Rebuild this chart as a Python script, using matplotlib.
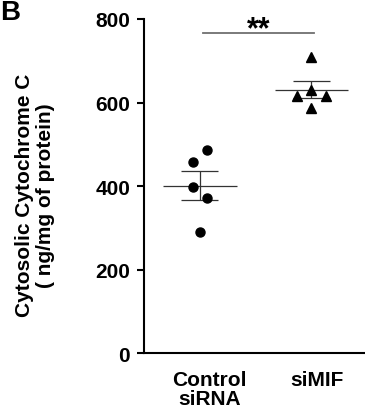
import numpy as np
import matplotlib
matplotlib.use("Agg")
import matplotlib.pyplot as plt

plt.rcParams['font.family'] = ['Liberation Sans', 'DejaVu Sans']
plt.rcParams['font.weight'] = 'bold'

groups = ["Control\nsiRNA", "siMIF"]
control = [486, 458, 397, 371, 289]
simif = [708, 631, 615, 615, 586]
control_dx = [0.065, -0.06, -0.06, 0.065, 0.0]
simif_dx = [0.0, 0.0, -0.125, 0.127, 0.0]
yticks = [0, 200, 400, 600, 800]
sig_y = 767

fig = plt.figure(figsize=(3.65, 4.14), dpi=100)
ax = fig.add_axes([0.3945, 0.1449, 0.6055, 0.8068])

pos = [1, 2]
for p, vals, dx, mk in zip(pos, [control, simif], [control_dx, simif_dx], ["o", "^"]):
    vals = np.array(vals)
    ax.plot(p + np.array(dx), vals, linestyle="none", marker=mk, color="black",
            markersize=6.5, clip_on=False, zorder=3)
    m = vals.mean()
    sem = vals.std(ddof=1) / np.sqrt(len(vals))
    ax.hlines(m, p - 0.33, p + 0.33, color="#333333", lw=0.9)
    ax.hlines([m - sem, m + sem], p - 0.165, p + 0.165, color="#333333", lw=0.9)
    ax.vlines(p, m - sem, m + sem, color="#333333", lw=0.9)

ax.plot([1.03, 2.02], [sig_y, sig_y], color="#707070", lw=1.3, clip_on=False)
ax.text(1.524, 756, "**", ha="center", va="baseline", fontsize=22, fontweight="bold")

ax.set_xlim(0.5, 2.48)
ax.set_ylim(0, 800)
ax.set_yticks(yticks)
ax.set_xticks([1.09, 2.05])
ax.set_xticklabels(groups, fontsize=15, linespacing=1.05)
ax.tick_params(axis="x", length=0, pad=12)
ax.tick_params(axis="y", length=5, width=1.5, labelsize=15, pad=5)
for s in ["top", "right"]:
    ax.spines[s].set_visible(False)
for s in ["left", "bottom"]:
    ax.spines[s].set_linewidth(1.5)

ax.set_ylabel("Cytosolic Cytochrome C\n( ng/mg of protein)", fontsize=15,
              fontweight="bold", linespacing=1.15)
ax.yaxis.set_label_coords(-0.403, 0.4746)

fig.text(0.0, 1.0, "B", fontsize=20, fontweight="bold", va="top", ha="left")

fig.savefig("out.png", dpi=100)
